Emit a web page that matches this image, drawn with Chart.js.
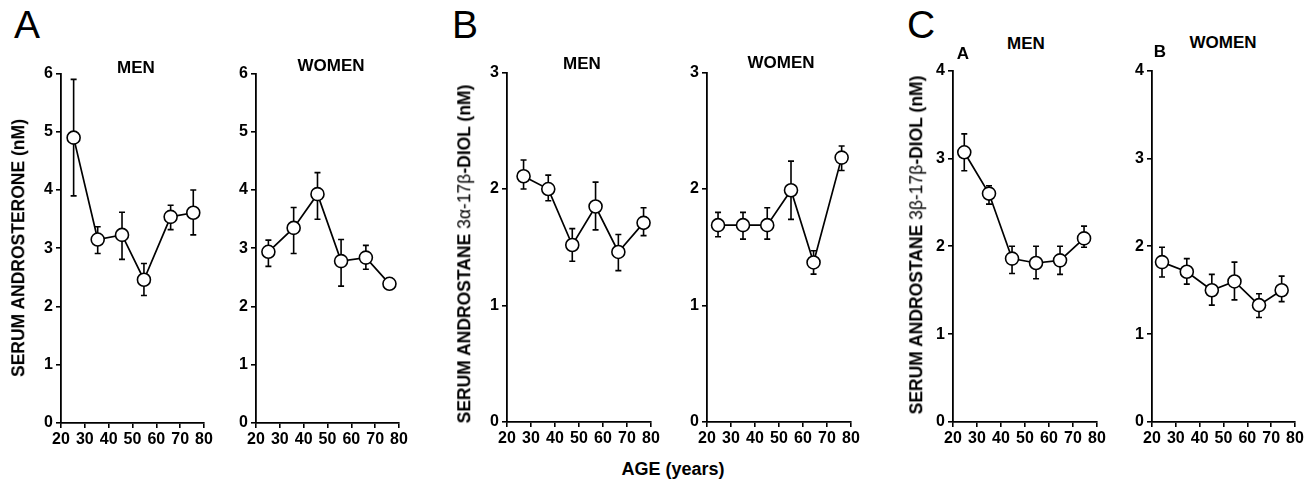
<!DOCTYPE html>
<html>
<head>
<meta charset="utf-8">
<script src="https://cdn.jsdelivr.net/npm/chart.js@4/dist/chart.umd.min.js"></script>
<style>
  body { margin: 0; background: #fff; width: 1310px; height: 482px; position: relative; overflow: hidden;
         font-family: "Liberation Sans", Arial, sans-serif; color: #000; }
  canvas { position: absolute; }
  .t { position: absolute; white-space: nowrap; line-height: 1; transform: translate(-50%, -50%); font-weight: bold; }
  .rot { transform: translate(-50%, -50%) rotate(-90deg); }
  .big { font-weight: normal; font-size: 39px; }
  .ttl { font-size: 17px; }
  .ylab { font-size: 17.5px; }
  .thin { font-weight: normal; }
</style>
</head>
<body>
<canvas id="am"></canvas>
<canvas id="aw"></canvas>
<canvas id="bm"></canvas>
<canvas id="bw"></canvas>
<canvas id="cm"></canvas>
<canvas id="cw"></canvas>

<div class="t big" style="left:27px;top:24px">A</div>
<div class="t big" style="left:465px;top:24px">B</div>
<div class="t big" style="left:921px;top:24px">C</div>

<div class="t ttl" style="left:136px;top:67px">MEN</div>
<div class="t ttl" style="left:331px;top:65px">WOMEN</div>
<div class="t ttl" style="left:582px;top:63px">MEN</div>
<div class="t ttl" style="left:781px;top:62px">WOMEN</div>
<div class="t ttl" style="left:1026px;top:43px">MEN</div>
<div class="t ttl" style="left:1223px;top:42px">WOMEN</div>
<div class="t ttl" style="left:963px;top:53px">A</div>
<div class="t ttl" style="left:1160px;top:51px">B</div>

<div class="t ylab rot" style="left:19px;top:248px">SERUM ANDROSTERONE (nM)</div>
<div class="t ylab rot" style="left:465px;top:254px">SERUM ANDROSTANE <span class="thin">3α-17β</span>-DIOL (nM)</div>
<div class="t ylab rot" style="left:917px;top:245px">SERUM ANDROSTANE <span class="thin">3β-17β</span>-DIOL (nM)</div>

<div class="t" style="left:673px;top:469px;font-size:18px">AGE (years)</div>

<script>
// ages (years) and values (nM), error bar ends as hi / lo
const xTicks = [20, 30, 40, 50, 60, 70, 80];

// A : androsterone
const ageAM = [25.3, 35.4, 45.6, 54.8, 66.0, 75.5];
const valAM = [4.9, 3.15, 3.23, 2.46, 3.54, 3.61];
const hiAM  = [5.9, 3.37, 3.62, 2.74, 3.74, 4.0];
const loAM  = [3.9, 2.91, 2.81, 2.19, 3.32, 3.23];

const ageAW = [25.2, 35.8, 45.8, 55.7, 66.1, 76.0];
const valAW = [2.94, 3.35, 3.93, 2.78, 2.84, 2.39];
const hiAW  = [3.14, 3.70, 4.3, 3.15, 3.05, null];
const loAW  = [2.69, 2.91, 3.5, 2.35, 2.64, null];

// B : androstane 3alpha-17beta-diol
const ageBM = [26.9, 37.2, 47.2, 56.9, 66.4, 76.9];
const valBM = [2.11, 2.0, 1.52, 1.85, 1.46, 1.71];
const hiBM  = [2.25, 2.12, 1.66, 2.06, 1.61, 1.84];
const loBM  = [2.0, 1.9, 1.38, 1.65, 1.3, 1.6];

const ageBW = [24.6, 35.0, 45.1, 55.0, 64.4, 76.1];
const valBW = [1.69, 1.69, 1.69, 1.99, 1.37, 2.27];
const hiBW  = [1.80, 1.80, 1.84, 2.24, 1.47, 2.37];
const loBW  = [1.59, 1.57, 1.57, 1.74, 1.27, 2.16];

// C : androstane 3beta-17beta-diol
const ageCM = [24.7, 35.0, 44.6, 54.6, 64.6, 74.6];
const valCM = [3.07, 2.6, 1.86, 1.81, 1.84, 2.09];
const hiCM  = [3.28, 2.69, 2.0, 2.0, 2.0, 2.23];
const loCM  = [2.86, 2.48, 1.69, 1.63, 1.68, 1.99];

const ageCW = [24.2, 34.6, 45.1, 54.6, 64.9, 74.4];
const valCW = [1.82, 1.71, 1.5, 1.6, 1.33, 1.5];
const hiCW  = [1.99, 1.86, 1.68, 1.82, 1.46, 1.66];
const loCW  = [1.65, 1.57, 1.33, 1.39, 1.19, 1.37];

// police des graduations (globale, sinon elle ne prend pas)
Chart.defaults.font.family = '"Liberation Sans", Arial, sans-serif';
Chart.defaults.font.size = 16;
Chart.defaults.font.weight = 'bold';
Chart.defaults.color = '#000';

// error bars drawn under the line and circles
const errorBars = {
  id: 'errorBars',
  beforeDatasetsDraw(chart) {
    const ctx = chart.ctx;
    const y = chart.scales.y;
    const ds = chart.data.datasets[0];
    const meta = chart.getDatasetMeta(0);
    ctx.save();
    ctx.strokeStyle = '#000';
    ctx.lineWidth = 1.6;
    ds.errHi.forEach(function(h, i) {
      if (h == null) return;
      const px = meta.data[i].x;
      const yh = y.getPixelForValue(h);
      const yl = y.getPixelForValue(ds.errLo[i]);
      ctx.beginPath();
      ctx.moveTo(px, yh); ctx.lineTo(px, yl);
      ctx.moveTo(px - 3, yh); ctx.lineTo(px + 3, yh);
      ctx.moveTo(px - 3, yl); ctx.lineTo(px + 3, yl);
      ctx.stroke();
    });
    ctx.restore();
  }
};

const Y_W = 40, X_H = 32, PAD_T = 10, PAD_R = 12;

function makePanel(id, box, ages, vals, hi, lo, yMax) {
  const cv = document.getElementById(id);
  const w = (box.r - box.l) + Y_W + PAD_R;
  const h = (box.b - box.t) + PAD_T + X_H;
  cv.width = w; cv.height = h;
  cv.style.left = (box.l - Y_W) + 'px';
  cv.style.top = (box.t - PAD_T) + 'px';
  cv.style.width = w + 'px';
  cv.style.height = h + 'px';

  return new Chart(cv.getContext('2d'), {
    type: 'scatter',
    data: {
      datasets: [{
        data: ages.map(function(a, i) { return { x: a, y: vals[i] }; }),
        errHi: hi,
        errLo: lo,
        showLine: true,
        borderColor: '#000',
        borderWidth: 1.7,
        pointRadius: 6.5,
        pointBackgroundColor: '#fff',
        pointBorderColor: '#000',
        pointBorderWidth: 1.6,
        clip: false
      }]
    },
    options: {
      responsive: false,
      animation: false,
      devicePixelRatio: 1,
      layout: { autoPadding: false, padding: { top: PAD_T, right: PAD_R, left: 0, bottom: 0 } },
      plugins: { legend: { display: false }, tooltip: { enabled: false } },
      scales: {
        x: {
          type: 'linear', min: 20, max: 80,
          afterFit: function(s) { s.height = X_H; },
          afterBuildTicks: function(s) { s.ticks = xTicks.map(function(v) { return { value: v }; }); },
          grid: { drawOnChartArea: false, drawTicks: true, tickLength: 5, color: '#000', lineWidth: 1.6 },
          border: { display: true, color: '#000', width: 1.8 },
          ticks: { color: '#000', font: { size: 16, weight: 'bold' }, padding: 2, maxRotation: 0, autoSkip: false }
        },
        y: {
          min: 0, max: yMax,
          afterFit: function(s) { s.width = Y_W; },
          grid: { drawOnChartArea: false, drawTicks: true, tickLength: 5, color: '#000', lineWidth: 1.6 },
          border: { display: true, color: '#000', width: 1.8 },
          ticks: { color: '#000', font: { size: 16, weight: 'bold' }, padding: 3, stepSize: 1 }
        }
      }
    },
    plugins: [errorBars]
  });
}

makePanel('am', { l: 61, r: 204, t: 71, b: 423 }, ageAM, valAM, hiAM, loAM, 6);
makePanel('aw', { l: 256, r: 399, t: 71, b: 423 }, ageAW, valAW, hiAW, loAW, 6);
makePanel('bm', { l: 507, r: 651, t: 70, b: 422 }, ageBM, valBM, hiBM, loBM, 3);
makePanel('bw', { l: 707, r: 851, t: 70, b: 422 }, ageBW, valBW, hiBW, loBW, 3);
makePanel('cm', { l: 953, r: 1097, t: 68, b: 422 }, ageCM, valCM, hiCM, loCM, 4);
makePanel('cw', { l: 1152, r: 1295, t: 68, b: 422 }, ageCW, valCW, hiCW, loCW, 4);
</script>
</body>
</html>
